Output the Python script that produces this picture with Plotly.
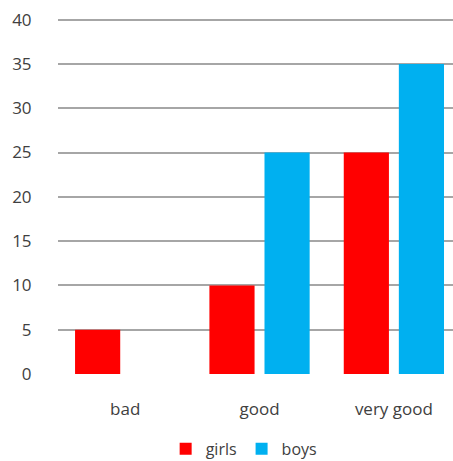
import plotly.graph_objects as go

categories = ["bad", "good", "very good"]
girls = [5, 10, 25]
boys = [0, 25, 35]
y_ticks = [0, 5, 10, 15, 20, 25, 30, 35, 40]

font = dict(family="Open Sans", size=17, color="#404040")
legend_font = dict(family="Open Sans", size=16, color="#404040")

fig = go.Figure()
fig.add_trace(go.Bar(name="girls", x=categories, y=girls, marker_color="#FF0000",
                     marker_line_width=0))
fig.add_trace(go.Bar(name="boys", x=categories, y=boys, marker_color="#00B0F0",
                     marker_line_width=0))

fig.update_layout(
    width=453, height=461,
    margin=dict(l=58, r=0, t=17, b=87, autoexpand=False),
    paper_bgcolor="white", plot_bgcolor="white",
    barmode="group", bargap=0.18, bargroupgap=0.18,
    font=font,
    showlegend=True,
    legend=dict(orientation="h", x=0.47, xanchor="center", y=-0.21, yanchor="middle",
                font=legend_font, itemwidth=30, traceorder="normal", tracegroupgap=0,
                bgcolor="rgba(0,0,0,0)"),
    xaxis=dict(range=[-0.5, 2.44], showgrid=False, zeroline=False, showline=False,
               ticks="outside", ticklen=20, tickcolor="rgba(0,0,0,0)", tickfont=font),
    yaxis=dict(range=[0, 40.3], tickvals=y_ticks, showgrid=True, gridcolor="#A6A6A6", gridwidth=1.5,
               zeroline=False, showline=False, ticks="outside", ticklen=22,
               tickcolor="rgba(0,0,0,0)", tickfont=font),
)

fig.write_html("out.html", config={"displayModeBar": False},
               post_script="document.body.style.margin='0';")
